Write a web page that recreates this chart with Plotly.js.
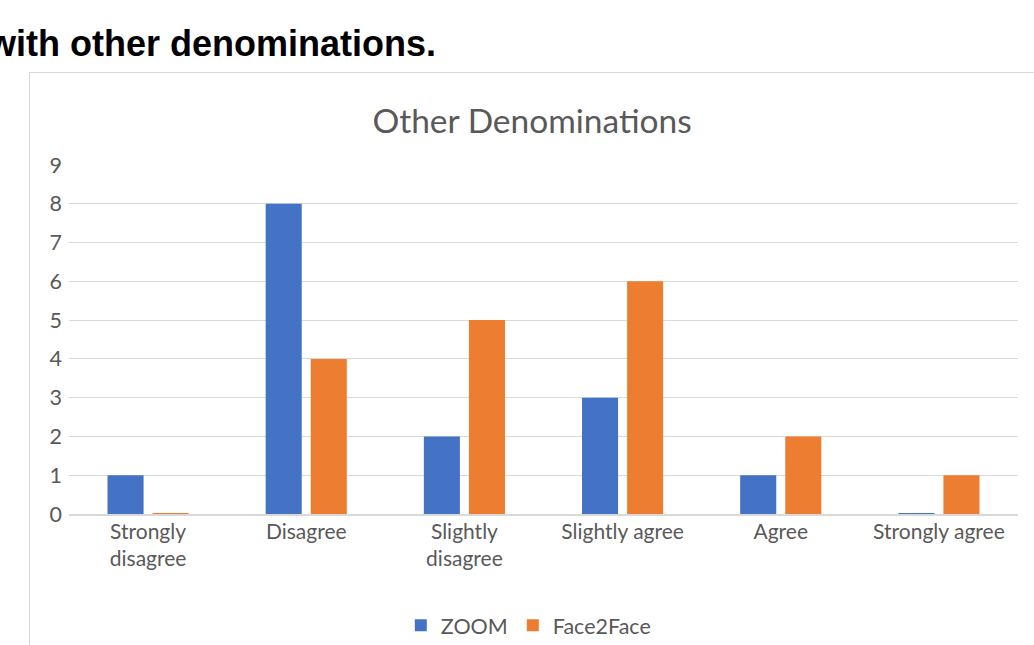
<!DOCTYPE html>
<html>
<head>
<meta charset="utf-8">
<script src="https://cdn.plot.ly/plotly-3.0.1.min.js"></script>
<style>
  html, body { margin: 0; padding: 0; width: 1034px; height: 645px; overflow: hidden; background: #fff; position: relative; }
  #heading { position: absolute; left: -12px; top: 22px; font-family: "Liberation Sans", Arial, sans-serif; font-weight: bold; font-size: 36px; line-height: 44px; color: #000; white-space: nowrap; }
  #box { position: absolute; left: 29px; top: 72px; width: 1020px; height: 600px; border: 1.5px solid #d9d9d9; box-sizing: border-box; }
  #chart { position: absolute; left: 0; top: 0; width: 1010px; height: 580px; }
</style>
</head>
<body>
<div id="heading">with other denominations.</div>
<div id="box"><div id="chart"></div></div>
<script>
const categories = ["Strongly<br>disagree", "Disagree", "Slightly<br>disagree", "Slightly agree", "Agree", "Strongly agree"];
const zoomValues = [1, 8, 2, 3, 1, 0];
const faceValues = [0, 4, 5, 6, 2, 1];
const yTicks = [0, 1, 2, 3, 4, 5, 6, 7, 8, 9];

const blue = "#4472C4";
const orange = "#ED7D31";
const zeroMark = v => (v === 0 ? 0.05 : null);

const traces = [
  { type: "bar", name: "ZOOM", x: categories, y: zoomValues, offsetgroup: "a",
    marker: { color: blue }, hoverinfo: "x+y+name" },
  { type: "bar", name: "Face2Face", x: categories, y: faceValues, offsetgroup: "b",
    marker: { color: orange }, hoverinfo: "x+y+name" },
  { type: "bar", x: categories, y: zoomValues.map(zeroMark), base: -0.025, offsetgroup: "a",
    marker: { color: blue }, showlegend: false, hoverinfo: "skip" },
  { type: "bar", x: categories, y: faceValues.map(zeroMark), base: -0.025, offsetgroup: "b",
    marker: { color: orange }, showlegend: false, hoverinfo: "skip" }
];

const layout = {
  width: 1010, height: 580,
  margin: { l: 39, r: 22, t: 92, b: 139 },
  paper_bgcolor: "#fff", plot_bgcolor: "#fff",
  font: { family: "Lato, 'Open Sans', sans-serif", color: "#595959", size: 21 },
  title: { text: "Other Denominations", font: { size: 33.5, color: "#595959", family: "Lato, sans-serif" },
           x: 0.488, xref: "paper", xanchor: "center", y: 0.917, yref: "container", yanchor: "middle" },
  barmode: "group", bargap: 0.43, bargroupgap: 0.2,
  xaxis: { type: "category", showgrid: false, showline: true, linecolor: "#d9d9d9", linewidth: 1.5,
           ticks: "", ticklabelstandoff: -2, tickfont: { size: 21, color: "#595959" }, automargin: false },
  yaxis: { range: [0, 9], tickvals: yTicks, showgrid: true, gridcolor: "#d9d9d9", gridwidth: 1.2,
           zeroline: false, showline: false, ticks: "", ticklabelstandoff: 6,
           tickfont: { size: 21.5, color: "#595959" }, automargin: false },
  legend: { orientation: "h", x: 0.484, xanchor: "center", xref: "paper", y: 0.048, yref: "container", yanchor: "middle",
            font: { size: 21.5, color: "#595959" }, itemwidth: 30, traceorder: "normal" },
  showlegend: true
};

Plotly.newPlot("chart", traces, layout, { staticPlot: true, displayModeBar: false });
</script>
</body>
</html>
